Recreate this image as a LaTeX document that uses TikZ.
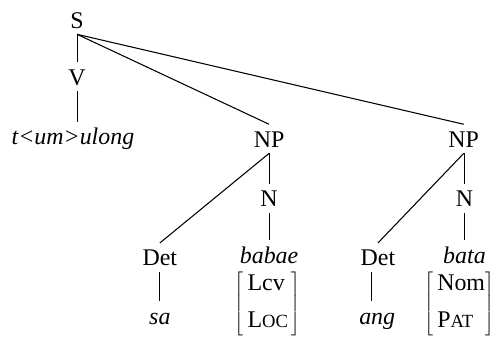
\documentclass[tikz,border=0pt]{standalone}
\usepackage{fontspec}
\setmainfont{Liberation Serif}
\usepackage{tikz}
\usetikzlibrary{positioning}
\newcommand{\treefont}{\fontsize{18}{21}\selectfont}
\newcommand{\fsc}[2]{#1{\fontsize{14}{16}\selectfont #2}}

\begin{document}
\begin{tikzpicture}[scale=1.0, font=\treefont,
    cat/.style={anchor=base, inner sep=4.5pt, text height=12.5pt, text depth=0pt, font=\treefont},
    word/.style={cat, font=\treefont\itshape},
    feat/.style={inner sep=0pt, font=\treefont},
    branch/.style={black, line width=0.8pt}]
    \useasboundingbox (0,0) rectangle (13.150,8.943);
    \node[cat] (S) at (2.04,8.20) {S};
    \node[cat] (V) at (2.04,6.69) {V};
    \node[word] (verb) at (1.93,5.11) {t<um>ulong};
    \node[cat] (NP1) at (7.12,5.05) {NP};
    \node[cat] (N1) at (7.12,3.47) {N};
    \node[cat] (Det1) at (4.23,1.91) {Det};
    \node[word] (sa) at (4.23,0.37) {sa};
    \node[word] (babae) at (7.12,1.98) {babae};
    \node[feat, below=1pt of babae, xshift=-1pt] (fbabae)
        {$\left[\begin{tabular}{@{\,}l@{\,}}Lcv\\[7pt]\fsc{L}{OC}\end{tabular}\right]$};
    \node[cat] (NP2) at (12.27,5.05) {NP};
    \node[cat] (N2) at (12.29,3.47) {N};
    \node[cat] (Det2) at (10.00,1.91) {Det};
    \node[word] (ang) at (9.98,0.37) {ang};
    \node[word] (bata) at (12.29,1.98) {bata};
    \node[feat, below=1pt of bata, xshift=-4pt] (fbata)
        {$\left[\begin{tabular}{@{\,}l@{}}Nom\\[7pt]\fsc{P}{AT}\end{tabular}\right]$};
    % branches
    \draw[branch] (S.south) -- (V.north);
    \draw[branch] (V.south) -- (V.south |- verb.north);
    \draw[branch] (S.south) -- (NP1.north);
    \draw[branch] (S.south) -- (NP2.north);
    \draw[branch] (NP1.south) -- (Det1.north);
    \draw[branch] (NP1.south) -- (N1.north);
    \draw[branch] (Det1.south) -- (sa.north);
    \draw[branch] (N1.south) -- (babae.north);
    \draw[branch] (NP2.south) -- (Det2.north);
    \draw[branch] (NP2.south -| N2.north) -- (N2.north);
    \draw[branch] ([xshift=-4.9pt]Det2.south) -- ([xshift=-4.9pt]Det2.south |- ang.north);
    \draw[branch] (N2.south) -- (bata.north);
\end{tikzpicture}
\end{document}
